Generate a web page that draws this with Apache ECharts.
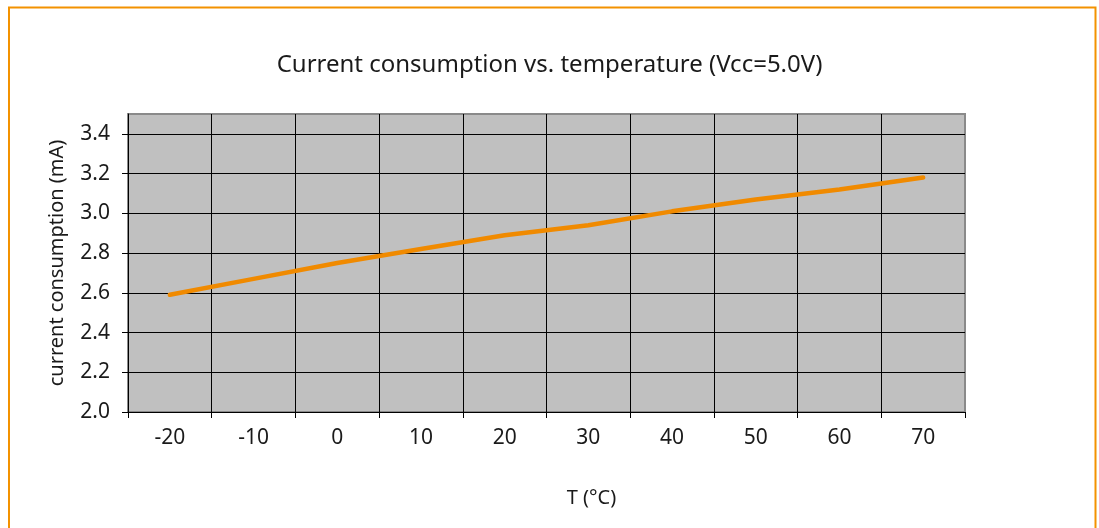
<!DOCTYPE html>
<html><head><meta charset="utf-8">
<script src="https://cdn.jsdelivr.net/npm/echarts@6/dist/echarts.min.js"></script>
<style>html,body{margin:0;padding:0;background:#fff}#c{width:1099px;height:528px}</style>
</head><body><div id="c"></div>
<script>
const categories = ['-20','-10','0','10','20','30','40','50','60','70'];
const currentMA = [2.59, 2.67, 2.75, 2.82, 2.89, 2.94, 3.01, 3.07, 3.12, 3.18];
const yTicks = { min: 2.0, max: 3.5, interval: 0.2 };

const font = 'Noto Sans';
const chart = echarts.init(document.getElementById('c'), null, {renderer: 'canvas'});
const xLineColors = categories.map(() => '#000').concat(['#000']);
xLineColors[xLineColors.length - 1] = '#8a8a8a';
const yLineColors = ['#000','#000','#000','#000','#000','#000','#000','#000','#8a8a8a'];
chart.setOption({
  animation: false,
  backgroundColor: '#fff',
  textStyle: { fontFamily: font },
  graphic: [{
    type: 'rect', silent: true,
    shape: { x: 9, y: 7.5, width: 1086.5, height: 600 },
    style: { fill: 'none', stroke: '#f39200', lineWidth: 2 }
  }],
  title: {
    text: 'Current consumption vs. temperature (Vcc=5.0V)',
    left: 'center', top: 48,
    textStyle: { fontFamily: font, fontSize: 24, fontWeight: 'normal', color: '#1a1a1a' }
  },
  grid: {
    left: 128, right: 134, top: 114, bottom: 116,
    show: true, backgroundColor: '#c0c0c0', borderColor: '#8a8a8a', borderWidth: 2
  },
  xAxis: {
    type: 'category', data: categories, boundaryGap: true,
    name: 'T (°C)', nameLocation: 'middle', nameGap: 76,
    nameTextStyle: { fontFamily: font, fontSize: 20, color: '#1a1a1a', padding: [0, 0, 0, 90] },
    axisLine: { lineStyle: { color: '#000', width: 1 } },
    axisTick: { show: true, length: 6, interval: 0, lineStyle: { color: '#000' } },
    axisLabel: { fontFamily: font, fontSize: 21, color: '#1a1a1a', margin: 16, interval: 0 },
    splitLine: { show: true, interval: 0, lineStyle: { color: xLineColors, width: 1 } }
  },
  yAxis: {
    type: 'value', min: yTicks.min, max: yTicks.max, interval: yTicks.interval,
    name: 'current consumption (mA)', nameLocation: 'middle', nameGap: 61,
    nameTextStyle: { fontFamily: font, fontSize: 20, color: '#1a1a1a' },
    axisLine: { show: true, lineStyle: { color: '#000', width: 1 } },
    axisTick: { show: true, length: 6, lineStyle: { color: '#000' } },
    axisLabel: { fontFamily: font, fontSize: 21, color: '#1a1a1a', margin: 18, showMaxLabel: false,
      formatter: v => v.toFixed(1) },
    splitLine: { show: true, lineStyle: { color: yLineColors, width: 1 } }
  },
  series: [{
    type: 'line', data: currentMA, showSymbol: false, symbol: 'none',
    lineStyle: { color: '#f08a00', width: 4.5, cap: 'round' }
  }]
});
</script></body></html>
